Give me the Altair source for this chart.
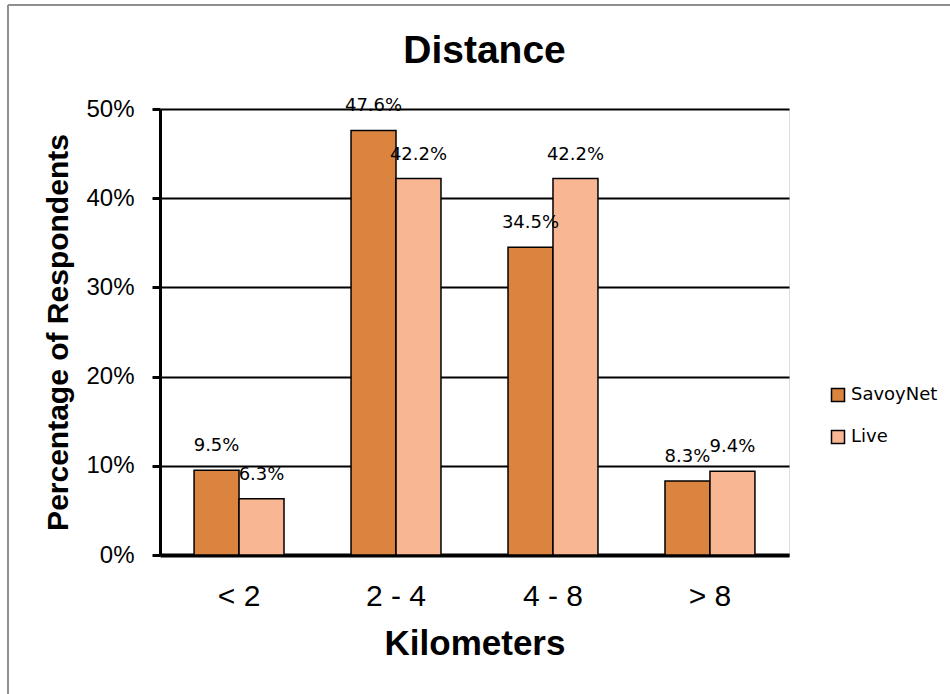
import altair as alt
import pandas as pd

categories = ["< 2", "2 - 4", "4 - 8", "> 8"]
series = ["SavoyNet", "Live"]
savoynet = [0.095, 0.476, 0.345, 0.083]
live = [0.063, 0.422, 0.422, 0.094]
y_ticks = [0, 0.1, 0.2, 0.3, 0.4, 0.5]
colors = ["#DA843F", "#F9B693"]
chart_title = "Distance"

rows = []
for c, s, l in zip(categories, savoynet, live):
    rows.append({"Kilometers": c, "Series": "SavoyNet", "Value": s})
    rows.append({"Kilometers": c, "Series": "Live", "Value": l})
df = pd.DataFrame(rows)

W, H = 629, 446

base = alt.Chart(df).encode(
    x=alt.X(
        "Kilometers:N",
        sort=categories,
        scale=alt.Scale(paddingInner=0.427, paddingOuter=0.217),
        axis=alt.Axis(
            title="Kilometers",
            labelAngle=0,
            ticks=False,
            tickSize=0,
            domainColor="black",
            domainWidth=4,
            labelFont="Liberation Sans",
            labelFontSize=30,
            labelColor="black",
            labelPadding=26,
            titleFont="Liberation Sans",
            titleFontSize=35,
            titleFontWeight="bold",
            titleColor="black",
            titleY=99,
            titleBaseline="alphabetic",
        ),
    ),
    xOffset=alt.XOffset("Series:N", sort=series),
    y=alt.Y(
        "Value:Q",
        scale=alt.Scale(domain=[0, 0.5]),
        axis=alt.Axis(
            values=y_ticks,
            format=".0%",
            grid=True,
            gridColor="black",
            gridWidth=2,
            domainColor="black",
            domainWidth=3,
            tickColor="black",
            tickWidth=3,
            tickSize=8,
            labelFont="Liberation Sans",
            labelFontSize=24,
            labelColor="black",
            labelPadding=18,
            title="Percentage of Respondents",
            titleFont="Liberation Sans",
            titleFontSize=30,
            titleFontWeight="bold",
            titleColor="black",
            titleX=-93,
            titleY=223,
            titleBaseline="alphabetic",
        ),
    ),
)

bars = base.mark_bar(stroke="black", strokeWidth=1.5).encode(
    color=alt.Color(
        "Series:N",
        sort=series,
        scale=alt.Scale(domain=series, range=colors),
        legend=alt.Legend(
            title=None,
            orient="none",
            legendX=669,
            legendY=277,
            symbolType="square",
            symbolSize=169,
            symbolStrokeColor="black",
            symbolStrokeWidth=1.5,
            symbolOpacity=1,
            labelFont="DejaVu Sans",
            labelFontSize=18,
            labelColor="black",
            labelOffset=4,
            rowPadding=22,
        ),
    )
)

labels = base.mark_text(
    baseline="bottom", dy=-15, font="DejaVu Sans", fontSize=18, color="black"
).encode(text=alt.Text("Value:Q", format=".1%"))

frame_df = pd.DataFrame({"k": [0]})
border_left = alt.Chart(frame_df).mark_rule(color="#8f8f8f", strokeWidth=2).encode(
    x=alt.value(-152), y=alt.value(-104), y2=alt.value(620)
)
border_top = alt.Chart(frame_df).mark_rule(color="#8f8f8f", strokeWidth=2).encode(
    x=alt.value(-152), x2=alt.value(820), y=alt.value(-104)
)
title_text = alt.Chart(frame_df).mark_text(
    text=chart_title,
    font="Liberation Sans",
    fontSize=39,
    fontWeight="bold",
    color="black",
    align="center",
    baseline="alphabetic",
).encode(x=alt.value(324.5), y=alt.value(-46))

chart = (
    alt.layer(border_left, border_top, title_text, bars, labels)
    .properties(
        width=W,
        height=H,
        autosize="none",
        padding={"left": 160, "top": 109, "right": 161, "bottom": 139},
    )
    .configure_view(stroke=None)
    .configure(background="white")
)

chart.save("out.html", embed_options={"renderer": "svg", "actions": False})
